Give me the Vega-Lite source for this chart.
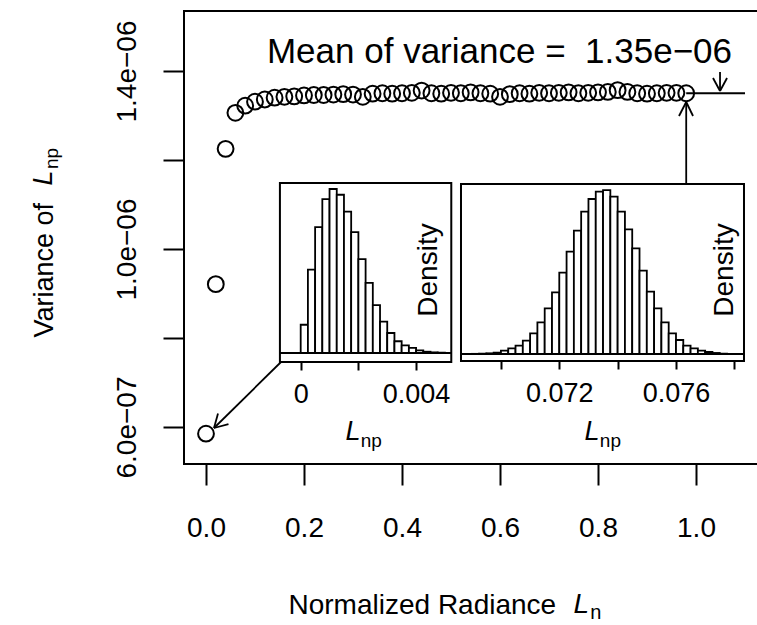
{
  "$schema": "https://vega.github.io/schema/vega-lite/v6.json",
  "width": 574,
  "height": 453,
  "autosize": {"type": "none"},
  "padding": {"left": 184, "top": 11, "right": 0, "bottom": 161},
  "background": "white",
  "config": {
    "font": "Liberation Sans",
    "view": {"stroke": "black", "strokeWidth": 2},
    "axis": {"grid": false, "domain": false, "tickColor": "black", "labelColor": "black", "titleColor": "black", "titleFontWeight": "normal"}
  },
  "datasets": {
    "pts": [
      {"Ln": 0.00, "variance": 5.85e-7}, {"Ln": 0.02, "variance": 9.21e-7}, {"Ln": 0.04, "variance": 1.225e-6},
      {"Ln": 0.06, "variance": 1.306e-6}, {"Ln": 0.08, "variance": 1.322e-6}, {"Ln": 0.10, "variance": 1.331e-6},
      {"Ln": 0.12, "variance": 1.336e-6}, {"Ln": 0.14, "variance": 1.340e-6}, {"Ln": 0.16, "variance": 1.342e-6},
      {"Ln": 0.18, "variance": 1.343e-6}, {"Ln": 0.20, "variance": 1.345e-6}, {"Ln": 0.22, "variance": 1.346e-6},
      {"Ln": 0.24, "variance": 1.346e-6}, {"Ln": 0.26, "variance": 1.347e-6}, {"Ln": 0.28, "variance": 1.348e-6},
      {"Ln": 0.30, "variance": 1.347e-6}, {"Ln": 0.32, "variance": 1.342e-6}, {"Ln": 0.34, "variance": 1.349e-6},
      {"Ln": 0.36, "variance": 1.350e-6}, {"Ln": 0.38, "variance": 1.349e-6}, {"Ln": 0.40, "variance": 1.350e-6},
      {"Ln": 0.42, "variance": 1.351e-6}, {"Ln": 0.44, "variance": 1.356e-6}, {"Ln": 0.46, "variance": 1.350e-6},
      {"Ln": 0.48, "variance": 1.349e-6}, {"Ln": 0.50, "variance": 1.351e-6}, {"Ln": 0.52, "variance": 1.350e-6},
      {"Ln": 0.54, "variance": 1.352e-6}, {"Ln": 0.56, "variance": 1.350e-6}, {"Ln": 0.58, "variance": 1.349e-6},
      {"Ln": 0.60, "variance": 1.342e-6}, {"Ln": 0.62, "variance": 1.348e-6}, {"Ln": 0.64, "variance": 1.350e-6},
      {"Ln": 0.66, "variance": 1.349e-6}, {"Ln": 0.68, "variance": 1.351e-6}, {"Ln": 0.70, "variance": 1.350e-6},
      {"Ln": 0.72, "variance": 1.351e-6}, {"Ln": 0.74, "variance": 1.352e-6}, {"Ln": 0.76, "variance": 1.350e-6},
      {"Ln": 0.78, "variance": 1.351e-6}, {"Ln": 0.80, "variance": 1.352e-6}, {"Ln": 0.82, "variance": 1.353e-6},
      {"Ln": 0.84, "variance": 1.357e-6}, {"Ln": 0.86, "variance": 1.353e-6}, {"Ln": 0.88, "variance": 1.350e-6},
      {"Ln": 0.90, "variance": 1.349e-6}, {"Ln": 0.92, "variance": 1.350e-6}, {"Ln": 0.94, "variance": 1.351e-6},
      {"Ln": 0.96, "variance": 1.351e-6}, {"Ln": 0.98, "variance": 1.350e-6}
    ],
    "segs": [
      {"x": 0.98, "y": 1.35e-6, "x2": 1.1, "y2": 1.35e-6},
      {"x": 1.049, "y": 1.3978e-6, "x2": 1.049, "y2": 1.3551e-6},
      {"x": 1.049, "y": 1.3551e-6, "x2": 1.0347, "y2": 1.3843e-6},
      {"x": 1.049, "y": 1.3551e-6, "x2": 1.0633, "y2": 1.3843e-6},
      {"x": 0.98, "y": 1.1483e-6, "x2": 0.98, "y2": 1.3303e-6},
      {"x": 0.98, "y": 1.3303e-6, "x2": 0.9653, "y2": 1.2989e-6},
      {"x": 0.98, "y": 1.3303e-6, "x2": 0.9939, "y2": 1.2989e-6},
      {"x": 0.1531, "y": 7.461e-7, "x2": 0.01633, "y2": 5.978e-7},
      {"x": 0.01633, "y": 5.978e-7, "x2": 0.0459, "y2": 6.063e-7},
      {"x": 0.01633, "y": 5.978e-7, "x2": 0.0245, "y2": 6.303e-7}
    ],
    "hist1": [
      {"lo": 0, "hi": 0.00025, "density": 89}, {"lo": 0.00025, "hi": 0.0005, "density": 263},
      {"lo": 0.0005, "hi": 0.00075, "density": 397}, {"lo": 0.00075, "hi": 0.001, "density": 485},
      {"lo": 0.001, "hi": 0.00125, "density": 517}, {"lo": 0.00125, "hi": 0.0015, "density": 499},
      {"lo": 0.0015, "hi": 0.00175, "density": 446}, {"lo": 0.00175, "hi": 0.002, "density": 381},
      {"lo": 0.002, "hi": 0.00225, "density": 296}, {"lo": 0.00225, "hi": 0.0025, "density": 221},
      {"lo": 0.0025, "hi": 0.00275, "density": 151}, {"lo": 0.00275, "hi": 0.003, "density": 99},
      {"lo": 0.003, "hi": 0.00325, "density": 63}, {"lo": 0.00325, "hi": 0.0035, "density": 37},
      {"lo": 0.0035, "hi": 0.00375, "density": 24}, {"lo": 0.00375, "hi": 0.004, "density": 16},
      {"lo": 0.004, "hi": 0.00425, "density": 8}, {"lo": 0.00425, "hi": 0.0045, "density": 4},
      {"lo": 0.0045, "hi": 0.00475, "density": 2}, {"lo": 0.00475, "hi": 0.005, "density": 1}
    ],
    "hist2": [
      {"lo": 0.069, "hi": 0.06925, "density": 0.3},
      {"lo": 0.06925, "hi": 0.0695, "density": 0.7}, {"lo": 0.0695, "hi": 0.06975, "density": 1.4},
      {"lo": 0.06975, "hi": 0.07, "density": 2.8}, {"lo": 0.07, "hi": 0.07025, "density": 6.9},
      {"lo": 0.07025, "hi": 0.0705, "density": 11.7}, {"lo": 0.0705, "hi": 0.07075, "density": 17.3},
      {"lo": 0.07075, "hi": 0.071, "density": 27.6}, {"lo": 0.071, "hi": 0.07125, "density": 42.8},
      {"lo": 0.07125, "hi": 0.0715, "density": 65.6}, {"lo": 0.0715, "hi": 0.07175, "density": 94.5},
      {"lo": 0.07175, "hi": 0.072, "density": 127.7}, {"lo": 0.072, "hi": 0.07225, "density": 168.4},
      {"lo": 0.07225, "hi": 0.0725, "density": 211.8}, {"lo": 0.0725, "hi": 0.07275, "density": 255.3},
      {"lo": 0.07275, "hi": 0.073, "density": 294.6}, {"lo": 0.073, "hi": 0.07325, "density": 320.9},
      {"lo": 0.07325, "hi": 0.0735, "density": 336}, {"lo": 0.0735, "hi": 0.07375, "density": 339.5},
      {"lo": 0.07375, "hi": 0.074, "density": 325.7}, {"lo": 0.074, "hi": 0.07425, "density": 294.6},
      {"lo": 0.07425, "hi": 0.0745, "density": 258.1}, {"lo": 0.0745, "hi": 0.07475, "density": 218.7},
      {"lo": 0.07475, "hi": 0.075, "density": 172.5}, {"lo": 0.075, "hi": 0.07525, "density": 129},
      {"lo": 0.07525, "hi": 0.0755, "density": 94.5}, {"lo": 0.0755, "hi": 0.07575, "density": 65.6},
      {"lo": 0.07575, "hi": 0.076, "density": 42.8}, {"lo": 0.076, "hi": 0.07625, "density": 29},
      {"lo": 0.07625, "hi": 0.0765, "density": 17.3}, {"lo": 0.0765, "hi": 0.07675, "density": 11.7},
      {"lo": 0.07675, "hi": 0.077, "density": 6.9}, {"lo": 0.077, "hi": 0.07725, "density": 4.1},
      {"lo": 0.07725, "hi": 0.0775, "density": 2.1}, {"lo": 0.0775, "hi": 0.07775, "density": 0.7}
    ]
  },
  "layer": [
    {
      "data": {"name": "pts"},
      "mark": {"type": "point", "shape": "circle", "filled": false, "stroke": "black", "strokeWidth": 2, "size": 250, "opacity": 1},
      "encoding": {
        "x": {"field": "Ln", "type": "quantitative",
          "scale": {"domain": [-0.0449, 1.1265], "nice": false, "zero": false},
          "axis": {"orient": "bottom", "values": [0, 0.2, 0.4, 0.6, 0.8, 1], "format": ".1f", "labelFontSize": 28, "tickSize": 21, "tickWidth": 2,
            "labelPadding": 29, "labelBaseline": "top", "labelAlign": "center", "labelFlush": false, "labelOverlap": false,
            "title": "Normalized Radiance", "titleFontSize": 28, "titleX": 104, "titleY": 149, "titleAlign": "left", "titleBaseline": "alphabetic", "titleAngle": 0}},
        "y": {"field": "variance", "type": "quantitative",
          "scale": {"domain": [5.169e-7, 1.5348e-6], "nice": false, "zero": false},
          "axis": {"orient": "left", "values": [6e-7, 8e-7, 1e-6, 1.2e-6, 1.4e-6],
            "labelExpr": "datum.value < 6.5e-7 ? '6.0e\u221207' : (datum.value > 9.5e-7 && datum.value < 1.05e-6) ? '1.0e\u221206' : datum.value > 1.35e-6 ? '1.4e\u221206' : ''",
            "labelAngle": 270, "labelAlign": "center", "labelBaseline": "alphabetic", "labelFontSize": 28, "tickSize": 21, "tickWidth": 2,
            "labelPadding": 28, "labelFlush": false, "labelOverlap": false,
            "title": "Variance of", "titleFontSize": 27, "titleAngle": 270, "titleAlign": "left", "titleBaseline": "alphabetic", "titleX": -132, "titleY": 326}}
      }
    },
    {
      "data": {"name": "segs"},
      "mark": {"type": "rule", "color": "black", "strokeWidth": 1.8},
      "encoding": {
        "x": {"field": "x", "type": "quantitative", "scale": {"domain": [-0.0449, 1.1265], "nice": false, "zero": false}, "axis": null},
        "y": {"field": "y", "type": "quantitative", "scale": {"domain": [5.169e-7, 1.5348e-6], "nice": false, "zero": false}, "axis": null},
        "x2": {"field": "x2"},
        "y2": {"field": "y2"}
      }
    },
    {
      "data": {"values": [{}]},
      "mark": {"type": "text", "text": "Mean of variance = \u00a01.35e\u221206", "fontSize": 35, "align": "right", "baseline": "alphabetic", "color": "black"},
      "encoding": {
        "x": {"datum": 1.0735, "type": "quantitative", "scale": {"domain": [-0.0449, 1.1265], "nice": false, "zero": false}, "axis": null},
        "y": {"datum": 1.418e-6, "type": "quantitative", "scale": {"domain": [5.169e-7, 1.5348e-6], "nice": false, "zero": false}, "axis": null}
      }
    },
    {
      "data": {"values": [{}]},
      "mark": {"type": "text", "text": "L", "fontStyle": "italic", "fontSize": 27, "angle": 270, "align": "left", "baseline": "alphabetic", "color": "black"},
      "encoding": {
        "x": {"datum": -0.3143, "type": "quantitative", "scale": {"domain": [-0.0449, 1.1265], "nice": false, "zero": false}, "axis": null},
        "y": {"datum": 1.1429e-6, "type": "quantitative", "scale": {"domain": [5.169e-7, 1.5348e-6], "nice": false, "zero": false}, "axis": null}
      }
    },
    {
      "data": {"values": [{}]},
      "mark": {"type": "text", "text": "np", "fontSize": 19, "angle": 270, "align": "left", "baseline": "alphabetic", "color": "black"},
      "encoding": {
        "x": {"datum": -0.302, "type": "quantitative", "scale": {"domain": [-0.0449, 1.1265], "nice": false, "zero": false}, "axis": null},
        "y": {"datum": 1.1798e-6, "type": "quantitative", "scale": {"domain": [5.169e-7, 1.5348e-6], "nice": false, "zero": false}, "axis": null}
      }
    },
    {
      "data": {"values": [{}]},
      "mark": {"type": "text", "text": "L", "fontStyle": "italic", "fontSize": 28, "align": "left", "baseline": "alphabetic", "color": "black"},
      "encoding": {
        "x": {"datum": 0.75, "type": "quantitative", "scale": {"domain": [-0.0449, 1.1265], "nice": false, "zero": false}, "axis": null},
        "y": {"datum": 1.82e-7, "type": "quantitative", "scale": {"domain": [5.169e-7, 1.5348e-6], "nice": false, "zero": false}, "axis": null}
      }
    },
    {
      "data": {"values": [{}]},
      "mark": {"type": "text", "text": "n", "fontSize": 20, "align": "left", "baseline": "alphabetic", "color": "black"},
      "encoding": {
        "x": {"datum": 0.784, "type": "quantitative", "scale": {"domain": [-0.0449, 1.1265], "nice": false, "zero": false}, "axis": null},
        "y": {"datum": 1.685e-7, "type": "quantitative", "scale": {"domain": [5.169e-7, 1.5348e-6], "nice": false, "zero": false}, "axis": null}
      }
    },
    {
      "data": {"values": [{}]},
      "mark": {"type": "rect", "fill": "white", "stroke": "black", "strokeWidth": 2},
      "encoding": {
        "x": {"datum": -0.00072, "type": "quantitative", "scale": {"domain": [-0.004045, 0.015852], "nice": false, "zero": false}, "axis": null},
        "x2": {"datum": 0.00522},
        "y": {"datum": -28.4, "type": "quantitative", "scale": {"domain": [-350, 1078.3], "nice": false, "zero": false}, "axis": null},
        "y2": {"datum": 536}
      }
    },
    {
      "data": {"name": "hist1"},
      "mark": {"type": "rect", "fill": "white", "stroke": "black", "strokeWidth": 1.8},
      "encoding": {
        "x": {"field": "lo", "type": "quantitative", "scale": {"domain": [-0.004045, 0.015852], "nice": false, "zero": false},
          "axis": {"orient": "bottom", "offset": -102, "values": [0, 0.002, 0.004], "format": ".3~f", "labelExpr": "datum.value == 0.002 ? '' : datum.label",
            "tickSize": 8, "tickWidth": 2, "labelFontSize": 27, "labelPadding": 11, "labelBaseline": "top", "labelAlign": "center",
            "labelFlush": false, "labelOverlap": false, "title": null, "domain": false, "grid": false}},
        "x2": {"field": "hi"},
        "y": {"field": "density", "type": "quantitative", "scale": {"domain": [-350, 1078.3], "nice": false, "zero": false}, "axis": null},
        "y2": {"datum": 0}
      }
    },
    {
      "data": {"values": [{}]},
      "mark": {"type": "rule", "color": "black", "strokeWidth": 2},
      "encoding": {
        "x": {"datum": -0.00072, "type": "quantitative", "scale": {"domain": [-0.004045, 0.015852], "nice": false, "zero": false}, "axis": null},
        "x2": {"datum": 0.00522},
        "y": {"datum": 0, "type": "quantitative", "scale": {"domain": [-350, 1078.3], "nice": false, "zero": false}, "axis": null}
      }
    },
    {
      "data": {"values": [{}]},
      "mark": {"type": "text", "text": "L", "fontStyle": "italic", "fontSize": 27, "align": "left", "baseline": "alphabetic", "color": "black"},
      "encoding": {
        "x": {"datum": 0.00155, "type": "quantitative", "scale": {"domain": [-0.004045, 0.015852], "nice": false, "zero": false}, "axis": null},
        "y": {"datum": -274.3, "type": "quantitative", "scale": {"domain": [-350, 1078.3], "nice": false, "zero": false}, "axis": null}
      }
    },
    {
      "data": {"values": [{}]},
      "mark": {"type": "text", "text": "np", "fontSize": 19, "align": "left", "baseline": "alphabetic", "color": "black"},
      "encoding": {
        "x": {"datum": 0.00208, "type": "quantitative", "scale": {"domain": [-0.004045, 0.015852], "nice": false, "zero": false}, "axis": null},
        "y": {"datum": -296.4, "type": "quantitative", "scale": {"domain": [-350, 1078.3], "nice": false, "zero": false}, "axis": null}
      }
    },
    {
      "data": {"values": [{}]},
      "mark": {"type": "text", "text": "Density", "fontSize": 28, "angle": 270, "align": "center", "baseline": "alphabetic", "color": "black"},
      "encoding": {
        "x": {"datum": 0.004725, "type": "quantitative", "scale": {"domain": [-0.004045, 0.015852], "nice": false, "zero": false}, "axis": null},
        "y": {"datum": 261.7, "type": "quantitative", "scale": {"domain": [-350, 1078.3], "nice": false, "zero": false}, "axis": null}
      }
    },
    {
      "data": {"values": [{}]},
      "mark": {"type": "rect", "fill": "white", "stroke": "black", "strokeWidth": 2},
      "encoding": {
        "x": {"datum": 0.068631, "type": "quantitative", "scale": {"domain": [0.059137, 0.078811], "nice": false, "zero": false}, "axis": null},
        "x2": {"datum": 0.078331},
        "y": {"datum": -14.5, "type": "quantitative", "scale": {"domain": [-227.8, 710.2], "nice": false, "zero": false}, "axis": null},
        "y2": {"datum": 352}
      }
    },
    {
      "data": {"name": "hist2"},
      "mark": {"type": "rect", "fill": "white", "stroke": "black", "strokeWidth": 1.8},
      "encoding": {
        "x": {"field": "lo", "type": "quantitative", "scale": {"domain": [0.059137, 0.078811], "nice": false, "zero": false},
          "axis": {"orient": "bottom", "offset": -103, "values": [0.07, 0.072, 0.074, 0.076, 0.078], "format": ".3f",
            "labelExpr": "(datum.value == 0.072 || datum.value == 0.076) ? datum.label : ''",
            "tickSize": 8, "tickWidth": 2, "labelFontSize": 27, "labelPadding": 11, "labelBaseline": "top", "labelAlign": "center",
            "labelFlush": false, "labelOverlap": false, "title": null, "domain": false, "grid": false}},
        "x2": {"field": "hi"},
        "y": {"field": "density", "type": "quantitative", "scale": {"domain": [-227.8, 710.2], "nice": false, "zero": false}, "axis": null},
        "y2": {"datum": 0}
      }
    },
    {
      "data": {"values": [{}]},
      "mark": {"type": "rule", "color": "black", "strokeWidth": 2},
      "encoding": {
        "x": {"datum": 0.068631, "type": "quantitative", "scale": {"domain": [0.059137, 0.078811], "nice": false, "zero": false}, "axis": null},
        "x2": {"datum": 0.078331},
        "y": {"datum": 0, "type": "quantitative", "scale": {"domain": [-227.8, 710.2], "nice": false, "zero": false}, "axis": null}
      }
    },
    {
      "data": {"values": [{}]},
      "mark": {"type": "text", "text": "L", "fontStyle": "italic", "fontSize": 27, "align": "left", "baseline": "alphabetic", "color": "black"},
      "encoding": {
        "x": {"datum": 0.07286, "type": "quantitative", "scale": {"domain": [0.059137, 0.078811], "nice": false, "zero": false}, "axis": null},
        "y": {"datum": -178, "type": "quantitative", "scale": {"domain": [-227.8, 710.2], "nice": false, "zero": false}, "axis": null}
      }
    },
    {
      "data": {"values": [{}]},
      "mark": {"type": "text", "text": "np", "fontSize": 19, "align": "left", "baseline": "alphabetic", "color": "black"},
      "encoding": {
        "x": {"datum": 0.07339, "type": "quantitative", "scale": {"domain": [0.059137, 0.078811], "nice": false, "zero": false}, "axis": null},
        "y": {"datum": -192.6, "type": "quantitative", "scale": {"domain": [-227.8, 710.2], "nice": false, "zero": false}, "axis": null}
      }
    },
    {
      "data": {"values": [{}]},
      "mark": {"type": "text", "text": "Density", "fontSize": 28, "angle": 270, "align": "center", "baseline": "alphabetic", "color": "black"},
      "encoding": {
        "x": {"datum": 0.077954, "type": "quantitative", "scale": {"domain": [0.059137, 0.078811], "nice": false, "zero": false}, "axis": null},
        "y": {"datum": 173.9, "type": "quantitative", "scale": {"domain": [-227.8, 710.2], "nice": false, "zero": false}, "axis": null}
      }
    }
  ],
  "resolve": {"scale": {"x": "independent", "y": "independent"}, "axis": {"x": "independent", "y": "independent"}}
}
